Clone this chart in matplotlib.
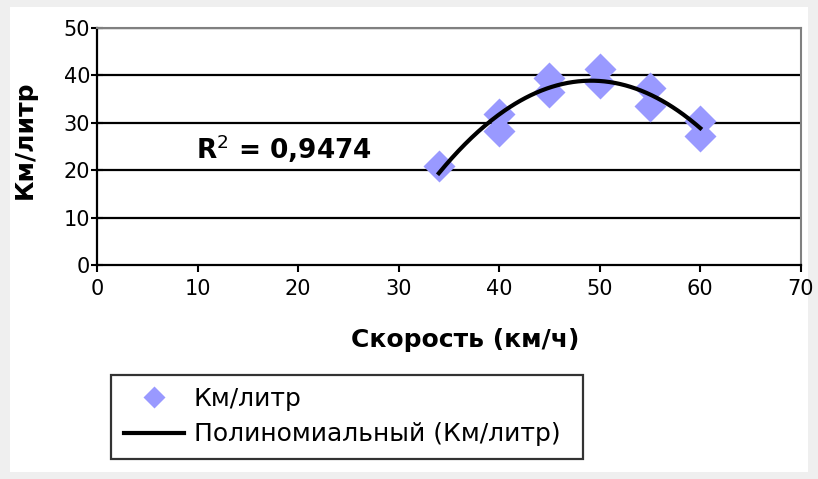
import numpy as np
import matplotlib.pyplot as plt
from matplotlib.patches import Rectangle

# speed vs fuel economy
speed = [34, 40, 40, 45, 45, 50, 50, 55, 55, 60, 60]
km_per_litre = [20.8, 31.8, 28.2, 39.4, 36.6, 41.4, 38.4, 37.4, 33.5, 30.4, 27.2]

x_ticks = [0, 10, 20, 30, 40, 50, 60, 70]
y_ticks = [0, 10, 20, 30, 40, 50]
r2_label = 'R$^2$ = 0,9474'

fig = plt.figure(figsize=(8.18, 4.79), dpi=100, facecolor='#efefef')
# white chart area on the grey surround
fig.add_artist(Rectangle((0.012, 0.015), 0.976, 0.97, transform=fig.transFigure,
                         facecolor='white', edgecolor='none', zorder=-10))
ax = fig.add_axes([0.1186, 0.4468, 0.8604, 0.4947])
ax.set_facecolor('white')

# polynomial (order 2) trend line, like excel does it
coef = np.polyfit(speed, km_per_litre, 2)
xs = np.linspace(min(speed), max(speed), 200)
ax.plot(xs, np.polyval(coef, xs), color='black', lw=3, zorder=3,
        label='Полиномиальный (Км/литр)')
ax.plot(speed, km_per_litre, 'D', color='#9999ff', ms=16, mec='none', zorder=2,
        label='Км/литр')

ax.set_xlim(0, 70)
ax.set_ylim(0, 50)
ax.set_xticks(x_ticks)
ax.set_yticks(y_ticks)
for y in y_ticks[1:]:
    ax.axhline(y, color='black', lw=1.6, zorder=1)

for s in ['top', 'right']:
    ax.spines[s].set_color('#808080')
    ax.spines[s].set_linewidth(1.5)
for s in ['left', 'bottom']:
    ax.spines[s].set_color('black')
    ax.spines[s].set_linewidth(1.6)
ax.tick_params(axis='y', direction='inout', length=8, width=1.5, labelsize=15, pad=1)
ax.tick_params(axis='x', direction='out', length=5, width=1.5, labelsize=15, pad=5)

ax.set_xlabel('Скорость (км/ч)', fontsize=18, fontweight='bold', va='center')
ax.xaxis.set_label_coords(0.523, -0.316)
ax.set_ylabel('Км/литр', fontsize=18, fontweight='bold', va='center')
ax.yaxis.set_label_coords(-0.102, 0.527)

ax.text(9.8, 24.6, r2_label, fontsize=19, fontweight='bold', va='center', ha='left')

h, l = ax.get_legend_handles_labels()
leg = fig.legend(h[::-1], l[::-1], loc='lower left',
                 bbox_to_anchor=(0.136, 0.042, 0.577, 0.18), mode='expand',
                 fontsize=18, frameon=True, fancybox=False, edgecolor='black',
                 handlelength=2.4, handletextpad=0.4, borderpad=0.5,
                 labelspacing=0.45, borderaxespad=0)
leg.get_frame().set_linewidth(1.6)
leg.legend_handles[0].set_markersize(11)

fig.savefig('out.png', dpi=100, facecolor=fig.get_facecolor())
